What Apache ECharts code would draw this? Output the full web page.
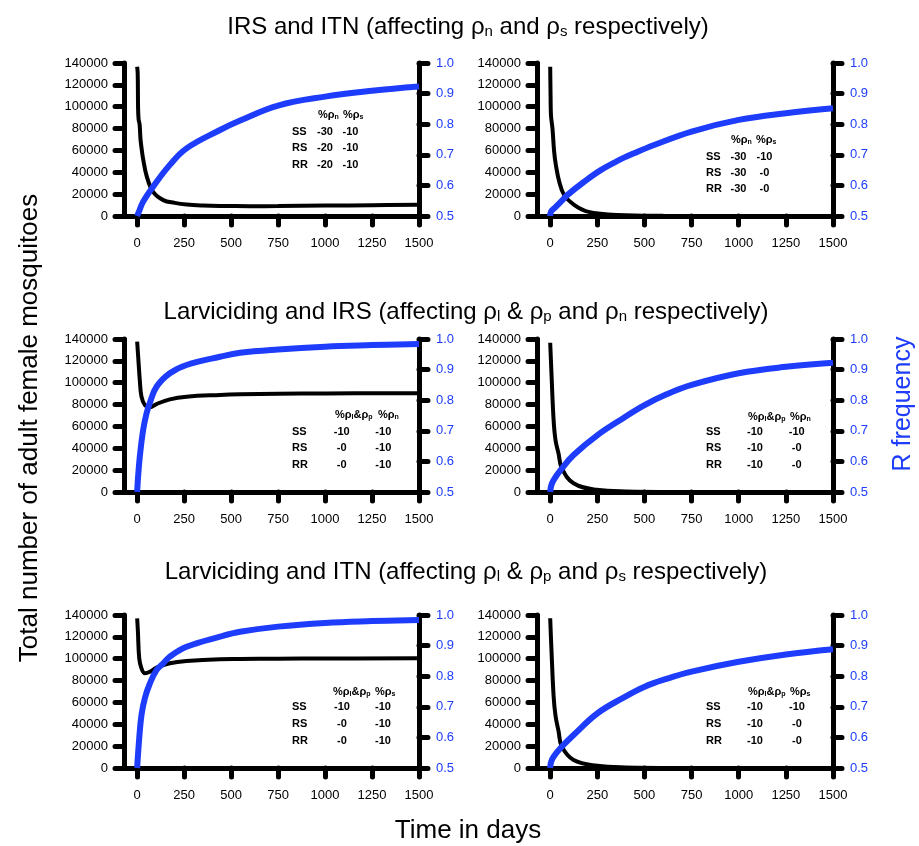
<!DOCTYPE html>
<html>
<head>
<meta charset="utf-8">
<script src="https://cdn.jsdelivr.net/npm/echarts@6/dist/echarts.min.js"></script>
<style>
  html, body { margin: 0; padding: 0; background: #fff; }
  #main { width: 919px; height: 846px; }
</style>
</head>
<body>
<div id="main"></div>
<script>
// ticks
var xTicks = [0, 250, 500, 750, 1000, 1250, 1500];

// row 1 : IRS and ITN   [day, value]
var irsItnMosqA = [[0,136600],[3,130000],[5,98000],[8,88000],[13,84000],[18,70000],[25,60000],[32,52000],[50,37000],[85,22000],[139,14500],[200,12000],[263,10500],[350,9600],[441,9200],[600,9000],[750,9100],[1000,9500],[1250,9900],[1500,10300]];
var irsItnFreqA = [[0,0.5],[10,0.515],[32,0.547],[85,0.596],[174,0.667],[263,0.721],[441,0.781],[548,0.812],[750,0.861],[1000,0.89],[1250,0.909],[1500,0.923]];
var irsItnMosqB = [[0,136600],[2,110000],[4,92400],[12,80200],[21,58800],[30,46700],[48,31400],[74,19200],[127,10100],[198,4000],[357,900],[600,200],[1000,50],[1500,0]];
var irsItnFreqB = [[0,0.5],[5,0.515],[21,0.525],[57,0.547],[92,0.569],[180,0.612],[268,0.65],[357,0.68],[445,0.705],[551,0.732],[750,0.776],[1000,0.814],[1250,0.836],[1500,0.852]];

// row 2 : Larviciding and IRS
var larvIrsMosqA = [[0,137500],[5,125000],[14,102500],[23,87200],[41,79600],[68,77500],[103,80500],[174,84800],[263,87200],[441,88800],[548,89400],[750,90000],[1000,90200],[1500,90300]];
var larvIrsFreqA = [[0,0.5],[5,0.55],[14,0.615],[32,0.703],[50,0.757],[68,0.792],[103,0.844],[174,0.888],[263,0.915],[441,0.942],[548,0.955],[750,0.966],[1000,0.975],[1250,0.98],[1500,0.984]];
var larvIrsMosqB = [[0,136600],[6,111600],[18,65900],[28,47600],[44,35400],[62,21700],[124,8000],[247,2000],[400,500],[700,100],[1500,0]];
var larvIrsFreqB = [[0,0.5],[5,0.52],[18,0.539],[62,0.577],[124,0.621],[251,0.686],[389,0.742],[498,0.783],[620,0.82],[750,0.85],[1000,0.888],[1250,0.909],[1500,0.922]];

// row 3 : Larviciding and ITN
var larvItnMosqA = [[0,137000],[4,125000],[11,100400],[23,91200],[41,86700],[68,88100],[103,91800],[174,95800],[263,97900],[441,99500],[548,99700],[750,100000],[1000,100200],[1500,100400]];
var larvItnFreqA = [[0,0.5],[11,0.597],[23,0.673],[41,0.728],[68,0.777],[103,0.82],[139,0.842],[174,0.864],[263,0.896],[441,0.929],[548,0.945],[750,0.962],[1000,0.974],[1250,0.98],[1500,0.984]];
var larvItnMosqB = [[0,137000],[6,111000],[18,66000],[28,48000],[44,34000],[62,19500],[124,7300],[250,2000],[400,500],[700,100],[1500,0]];
var larvItnFreqB = [[0,0.5],[5,0.52],[18,0.537],[62,0.57],[124,0.608],[251,0.679],[389,0.73],[498,0.765],[620,0.792],[750,0.815],[1000,0.847],[1250,0.871],[1500,0.888]];

// tables inside the panels
var tblIrsItnA = [['SS','-30','-10'],['RS','-20','-10'],['RR','-20','-10']];
var tblIrsItnB = [['SS','-30','-10'],['RS','-30','-0'],['RR','-30','-0']];
var tblLarvA   = [['SS','-10','-10'],['RS','-0','-10'],['RR','-0','-10']];
var tblLarvB   = [['SS','-10','-10'],['RS','-10','-0'],['RR','-10','-0']];

var BLUE = '#1d3cfb';
var FONT = '"Liberation Sans", Arial, sans-serif';

var chart = echarts.init(document.getElementById('main'));

var panels = [
  { grid: {left:124, top:63,  width:295, height:153}, mosq: irsItnMosqA,  freq: irsItnFreqA,
    tbl: tblIrsItnA, head: ['%ρ{s|n}', '%ρ{s|s}'], lx:292, hx:[318,343], cx:[325,350.5], hy:115, ry:[131.7,148.3,165] },
  { grid: {left:537, top:63,  width:296, height:153}, mosq: irsItnMosqB,  freq: irsItnFreqB,
    tbl: tblIrsItnB, head: ['%ρ{s|n}', '%ρ{s|s}'], lx:706, hx:[731,756], cx:[738.5,764.5], hy:140, ry:[157,173,189] },
  { grid: {left:124, top:339, width:295, height:153}, mosq: larvIrsMosqA, freq: larvIrsFreqA,
    tbl: tblLarvA, head: ['%ρ{s|l}&ρ{s|p}', '%ρ{s|n}'], lx:292, hx:[335,378], cx:[341.7,383.3], hy:415, ry:[431.7,448.3,465] },
  { grid: {left:537, top:339, width:296, height:153}, mosq: larvIrsMosqB, freq: larvIrsFreqB,
    tbl: tblLarvB, head: ['%ρ{s|l}&ρ{s|p}', '%ρ{s|n}'], lx:706, hx:[748,790], cx:[755,796.7], hy:416.7, ry:[431.7,448.3,465] },
  { grid: {left:124, top:615, width:295, height:153}, mosq: larvItnMosqA, freq: larvItnFreqA,
    tbl: tblLarvA, head: ['%ρ{s|l}&ρ{s|p}', '%ρ{s|s}'], lx:292, hx:[333,375], cx:[342,383], hy:691.7, ry:[707.3,724,740.7] },
  { grid: {left:537, top:615, width:296, height:153}, mosq: larvItnMosqB, freq: larvItnFreqB,
    tbl: tblLarvB, head: ['%ρ{s|l}&ρ{s|p}', '%ρ{s|s}'], lx:706, hx:[748,790], cx:[755,797], hy:691.7, ry:[707.3,724,740.7] }
];

var grids = [], xAxes = [], yAxes = [], series = [], graphics = [];

panels.forEach(function (p, i) {
  grids.push(p.grid);
  xAxes.push({
    type: 'value', gridIndex: i, min: -70, max: 1500,
    axisLine: { onZero: false, lineStyle: { color: '#000', width: 5, cap: 'round' } },
    axisTick: { customValues: xTicks, length: 9, lineStyle: { color: '#000', width: 5, cap: 'round' } },
    axisLabel: { customValues: xTicks, color: '#000', fontSize: 13, fontFamily: FONT, margin: 21,
      formatter: function (v) { return String(v); } },
    splitLine: { show: false }
  });
  yAxes.push({
    type: 'value', gridIndex: i, position: 'left', min: 0, max: 140000, interval: 20000,
    axisLine: { show: true, onZero: false, lineStyle: { color: '#000', width: 5, cap: 'round' } },
    axisTick: { show: true, length: 9, lineStyle: { color: '#000', width: 5, cap: 'round' } },
    axisLabel: { color: '#000', fontSize: 13, fontFamily: FONT, margin: 16, formatter: function (v) { return String(v); } },
    splitLine: { show: false }
  });
  yAxes.push({
    type: 'value', gridIndex: i, position: 'right', min: 0.5, max: 1.0, interval: 0.1,
    axisLine: { show: true, onZero: false, lineStyle: { color: '#000', width: 5, cap: 'round' } },
    axisTick: { show: true, length: 9, lineStyle: { color: '#000', width: 5, cap: 'round' } },
    axisLabel: { color: BLUE, fontSize: 13, fontFamily: FONT, margin: 17, formatter: function (v) { return v.toFixed(1); } },
    splitLine: { show: false }
  });
  series.push({
    type: 'line', xAxisIndex: i, yAxisIndex: 2 * i, data: p.mosq,
    showSymbol: false, smooth: 0.4, clip: false,
    lineStyle: { color: '#000', width: 4 }
  });
  series.push({
    type: 'line', xAxisIndex: i, yAxisIndex: 2 * i + 1, data: p.freq,
    showSymbol: false, smooth: 0.4, clip: false,
    lineStyle: { color: BLUE, width: 6 }
  });

  // table text
  var bold = 'bold 11px ' + FONT;
  var subRich = { s: { fontSize: 7, fontWeight: 'bold', fontFamily: FONT, verticalAlign: 'bottom', lineHeight: 7, fill: '#000' } };
  p.head.forEach(function (h, k) {
    graphics.push({ type: 'text', x: p.hx[k], y: p.hy, z: 100,
      style: { text: h, rich: subRich, font: bold, fill: '#000', align: 'left', textAlign: 'left', verticalAlign: 'middle', textVerticalAlign: 'middle' } });
  });
  p.tbl.forEach(function (row, r) {
    graphics.push({ type: 'text', x: p.lx, y: p.ry[r], z: 100,
      style: { text: row[0], font: bold, fill: '#000', align: 'left', textAlign: 'left', verticalAlign: 'middle', textVerticalAlign: 'middle' } });
    for (var c = 1; c < 3; c++) {
      graphics.push({ type: 'text', x: p.cx[c - 1], y: p.ry[r], z: 100,
        style: { text: row[c], font: bold, fill: '#000', align: 'center', textAlign: 'center', verticalAlign: 'middle', textVerticalAlign: 'middle' } });
    }
  });
});

// titles
var titleRich = { s: { fontSize: 15, fontFamily: FONT, verticalAlign: 'bottom', lineHeight: 15, fill: '#000' } };
function bigText(txt, x, y) {
  graphics.push({ type: 'text', x: x, y: y, z: 100,
    style: { text: txt, rich: titleRich, font: '24px ' + FONT, fill: '#000',
      align: 'center', textAlign: 'center', verticalAlign: 'middle', textVerticalAlign: 'middle' } });
}
bigText('IRS and ITN (affecting ρ{s|n} and ρ{s|s} respectively)', 468, 27);
bigText('Larviciding and IRS (affecting ρ{s|l} & ρ{s|p} and ρ{s|n} respectively)', 466, 312);
bigText('Larviciding and ITN (affecting ρ{s|l} & ρ{s|p} and ρ{s|s} respectively)', 466, 572);

graphics.push({ type: 'text', x: 30, y: 428, rotation: Math.PI / 2,
  style: { text: 'Total number of adult female mosquitoes', font: '26px ' + FONT, fill: '#000',
    align: 'center', textAlign: 'center', verticalAlign: 'middle', textVerticalAlign: 'middle' } });
graphics.push({ type: 'text', x: 903, y: 404, rotation: Math.PI / 2,
  style: { text: 'R frequency', font: '25px ' + FONT, fill: BLUE,
    align: 'center', textAlign: 'center', verticalAlign: 'middle', textVerticalAlign: 'middle' } });
graphics.push({ type: 'text', x: 468, y: 831,
  style: { text: 'Time in days', font: '26px ' + FONT, fill: '#000',
    align: 'center', textAlign: 'center', verticalAlign: 'middle', textVerticalAlign: 'middle' } });

var option = {
  backgroundColor: '#FFFFFF',
  animation: false,
  grid: grids,
  xAxis: xAxes,
  yAxis: yAxes,
  series: series,
  graphic: graphics
};

chart.setOption(option);
</script>
</body>
</html>
